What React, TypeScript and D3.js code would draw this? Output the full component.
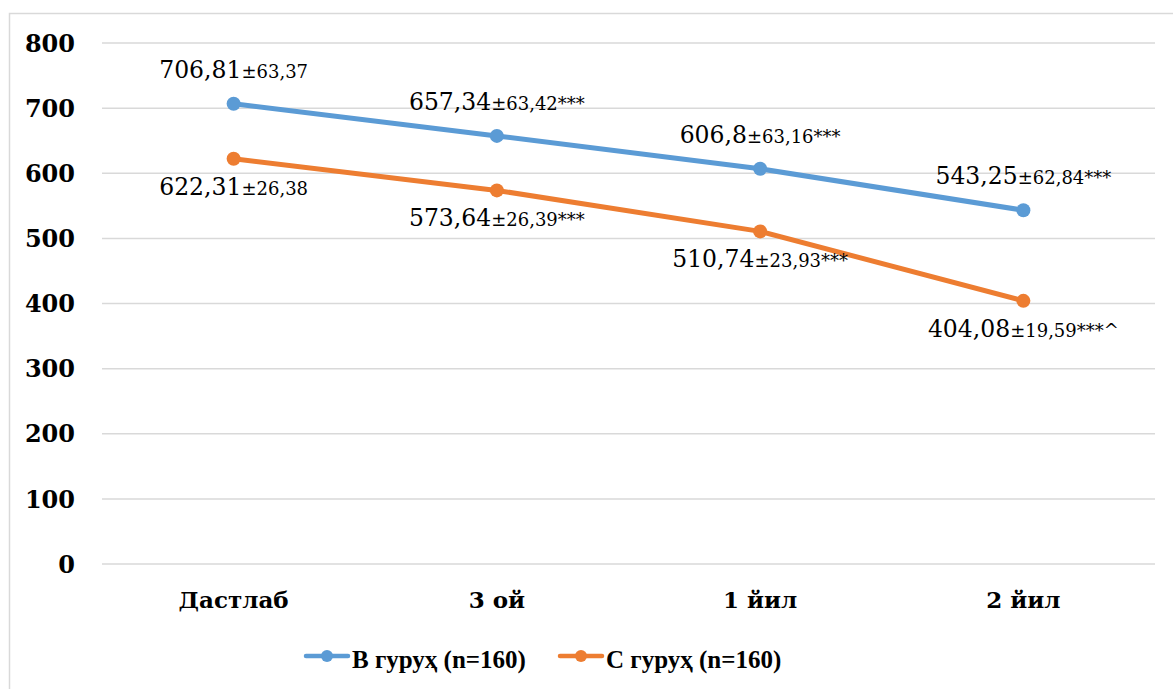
import React from "react";
import * as d3 from "d3";

const categories = ["Дастлаб", "3 ой", "1 йил", "2 йил"];
const seriesNames = ["В гуруҳ (n=160)", "С гуруҳ (n=160)"];
const seriesB = [706.81, 657.34, 606.8, 543.25];
const seriesC = [622.31, 573.64, 510.74, 404.08];
const labelMainB = ["706,81", "657,34", "606,8", "543,25"];
const labelSubB = ["±63,37", "±63,42***", "±63,16***", "±62,84***"];
const labelMainC = ["622,31", "573,64", "510,74", "404,08"];
const labelSubC = ["±26,38", "±26,39***", "±23,93***", "±19,59***^"];
const yTicks = [0, 100, 200, 300, 400, 500, 600, 700, 800];
const colors = ["#5B9BD5", "#ED7D31"];

const W = 1173;
const H = 689;
const FONT = "'DejaVu Serif', serif";
const LEGEND_FONT = "'Liberation Serif', 'DejaVu Serif', serif";

export default function App() {
  const x = d3.scaleBand<string>().domain(categories).range([102, 1155]);
  const y = d3.scaleLinear().domain([0, 800]).range([564, 43]);
  const cx = (c: string) => (x(c) as number) + x.bandwidth() / 2;
  const line = d3
    .line<number>()
    .x((_, i) => cx(categories[i]))
    .y((d) => y(d));

  const series = [
    { vals: seriesB, main: labelMainB, sub: labelSubB, dy: -26, color: colors[0] },
    { vals: seriesC, main: labelMainC, sub: labelSubC, dy: 36, color: colors[1] },
  ];

  const legendItems = [
    { x0: 306, name: seriesNames[0], color: colors[0] },
    { x0: 560, name: seriesNames[1], color: colors[1] },
  ];

  return (
    <svg
      width={W}
      height={H}
      style={{ position: "absolute", left: 0, top: 0, background: "#fff" }}
      fontFamily={FONT}
    >
      <rect x={9.5} y={13.5} width={1200} height={700} fill="#fff" stroke="#d9d9d9" strokeWidth={1.5} />
      {yTicks.map((t) => (
        <g key={t}>
          <line x1={102} x2={1155} y1={y(t)} y2={y(t)} stroke="#d9d9d9" strokeWidth={1.5} />
          <text
            x={75}
            y={y(t)}
            dy="0.36em"
            textAnchor="end"
            fontWeight="bold"
            fontSize={24}
            fill="#000"
          >
            {t}
          </text>
        </g>
      ))}
      {categories.map((c) => (
        <text key={c} x={cx(c)} y={608} textAnchor="middle" fontWeight="bold" fontSize={23} fill="#000">
          {c}
        </text>
      ))}
      {series.map((s, si) => (
        <g key={si}>
          <path d={line(s.vals) || ""} fill="none" stroke={s.color} strokeWidth={5} strokeLinejoin="round" />
          {s.vals.map((v, i) => (
            <circle key={i} cx={cx(categories[i])} cy={y(v)} r={7} fill={s.color} />
          ))}
        </g>
      ))}
      {series.map((s, si) => (
        <g key={"l" + si}>
          {s.vals.map((v, i) => (
            <text
              key={i}
              x={cx(categories[i])}
              y={y(v) + s.dy}
              textAnchor="middle"
              fill="#000"
              fontSize={23.5}
            >
              <tspan>{s.main[i]}</tspan>
              <tspan fontSize={18}>{s.sub[i]}</tspan>
            </text>
          ))}
        </g>
      ))}
      {legendItems.map((l, i) => (
        <g key={i}>
          <line x1={l.x0} x2={l.x0 + 42} y1={656} y2={656} stroke={l.color} strokeWidth={4.5} strokeLinecap="round" />
          <circle cx={l.x0 + 21} cy={656} r={6} fill={l.color} />
          <text x={l.x0 + 46} y={668} fontFamily={LEGEND_FONT} fontWeight="bold" fontSize={25} fill="#000">
            {l.name}
          </text>
        </g>
      ))}
    </svg>
  );
}
